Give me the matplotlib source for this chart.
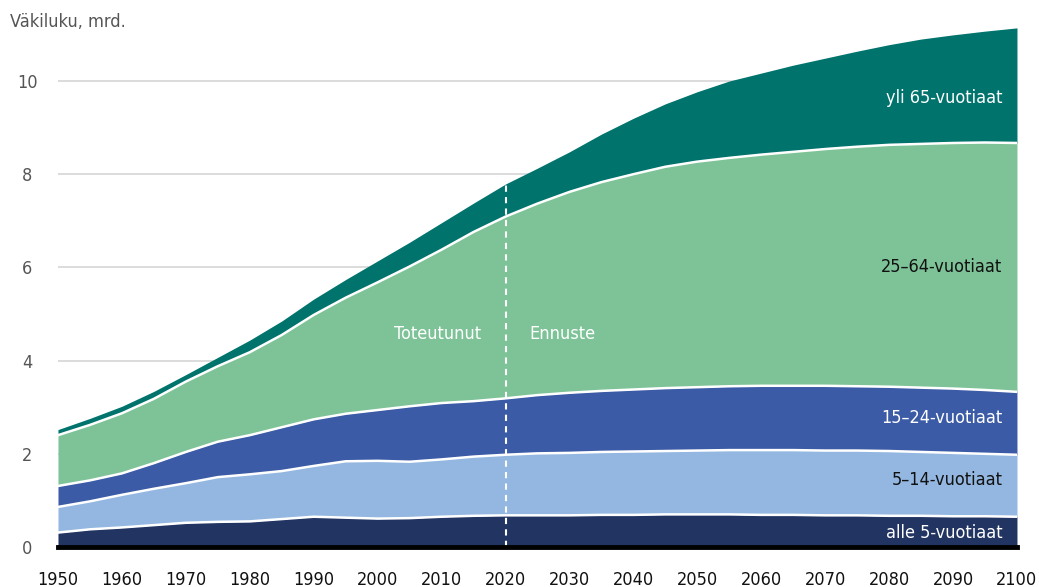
import matplotlib
matplotlib.use("Agg")
import matplotlib.pyplot as plt
import numpy as np

plt.rcParams['font.family'] = ['DejaVu Sans']
plt.rcParams['font.stretch'] = 'condensed'

# Data (billions)
years = list(range(1950, 2101, 5))
alle5 = [0.31, 0.38, 0.42, 0.47, 0.52, 0.54, 0.55, 0.60, 0.65, 0.63, 0.61, 0.62,
         0.65, 0.67, 0.68, 0.68, 0.68, 0.69, 0.69, 0.70, 0.70, 0.70, 0.69, 0.69,
         0.68, 0.68, 0.67, 0.67, 0.66, 0.66, 0.65]
age5_14 = [0.55, 0.60, 0.70, 0.78, 0.85, 0.96, 1.01, 1.03, 1.09, 1.21, 1.24, 1.21,
           1.23, 1.27, 1.30, 1.33, 1.34, 1.35, 1.36, 1.36, 1.37, 1.38, 1.39, 1.39,
           1.39, 1.39, 1.39, 1.37, 1.36, 1.34, 1.33]
age15_24 = [0.45, 0.45, 0.46, 0.55, 0.67, 0.76, 0.84, 0.94, 1.00, 1.02, 1.09, 1.19,
            1.21, 1.19, 1.21, 1.25, 1.29, 1.31, 1.33, 1.35, 1.36, 1.37, 1.38, 1.38,
            1.39, 1.38, 1.38, 1.38, 1.38, 1.37, 1.35]
age25_64 = [1.09, 1.19, 1.29, 1.38, 1.51, 1.62, 1.78, 1.98, 2.24, 2.49, 2.74, 3.00,
            3.29, 3.63, 3.90, 4.11, 4.31, 4.48, 4.62, 4.75, 4.84, 4.90, 4.96, 5.02,
            5.08, 5.14, 5.19, 5.23, 5.27, 5.31, 5.34]
yli65 = [0.12, 0.14, 0.15, 0.16, 0.15, 0.19, 0.26, 0.30, 0.34, 0.39, 0.46, 0.52,
         0.58, 0.62, 0.70, 0.76, 0.86, 1.03, 1.20, 1.35, 1.50, 1.65, 1.75, 1.86,
         1.95, 2.05, 2.15, 2.25, 2.32, 2.39, 2.47]

groups = [alle5, age5_14, age15_24, age25_64, yli65]
labels = ['alle 5-vuotiaat', '5\u201314-vuotiaat', '15\u201324-vuotiaat',
          '25\u201364-vuotiaat', 'yli 65-vuotiaat']
colors = ['#223462', '#93b7e0', '#3c5ba6', '#7dc397', '#00736d']
label_colors = ['white', '#111111', 'white', '#111111', 'white']
label_y = [0.30, 1.44, 2.77, 6.0, 9.64]

fig = plt.figure(figsize=(10.39, 5.87), dpi=100)
ax = fig.add_axes([0.0558, 0.0681, 0.923, 0.913])

x = np.array(years)
cum = np.cumsum(np.array(groups), axis=0)
bottom = np.zeros(len(years))
for i, top in enumerate(cum):
    ax.fill_between(x, bottom, top, color=colors[i], linewidth=0, zorder=2)
    if i < len(cum) - 1:
        ax.plot(x, top, color='white', lw=1.8, zorder=3)
    bottom = top

# labels inside the areas, at the right edge
for i in range(len(groups)):
    ax.text(2097.7, label_y[i], labels[i], ha='right', va='center', fontsize=13,
            color=label_colors[i], zorder=5)

# 2020 divider
ax.plot([2020, 2020], [0, cum[-1][years.index(2020)]], color='white', lw=1.5,
        ls=(0, (3, 2.5)), zorder=4)
ax.text(2009.4, 4.57, 'Toteutunut', ha='center', va='center', fontsize=13,
        color='white', zorder=5)
ax.text(2028.9, 4.57, 'Ennuste', ha='center', va='center', fontsize=13,
        color='white', zorder=5)

ax.axhline(0, color='black', lw=3.5, zorder=4, clip_on=False)

ax.set_xlim(1950, 2100)
ax.set_ylim(0, 11.5)
ax.set_yticks([0, 2, 4, 6, 8, 10])
ax.set_xticks(range(1950, 2101, 10))
ax.grid(axis='y', color='#d9d9d9', lw=1.3, zorder=0)
ax.set_axisbelow(True)
for s in ax.spines.values():
    s.set_visible(False)
ax.tick_params(axis='both', length=0, labelsize=13)
ax.tick_params(axis='y', colors='#555555', pad=22)
ax.tick_params(axis='x', colors='#111111', pad=17)
for lab in ax.get_yticklabels():
    lab.set_horizontalalignment('center')

fig.text(0.0096, 0.962, 'V\u00e4kiluku, mrd.', fontsize=13, color='#555555',
         ha='left', va='center')

fig.savefig('out.png', dpi=100)
